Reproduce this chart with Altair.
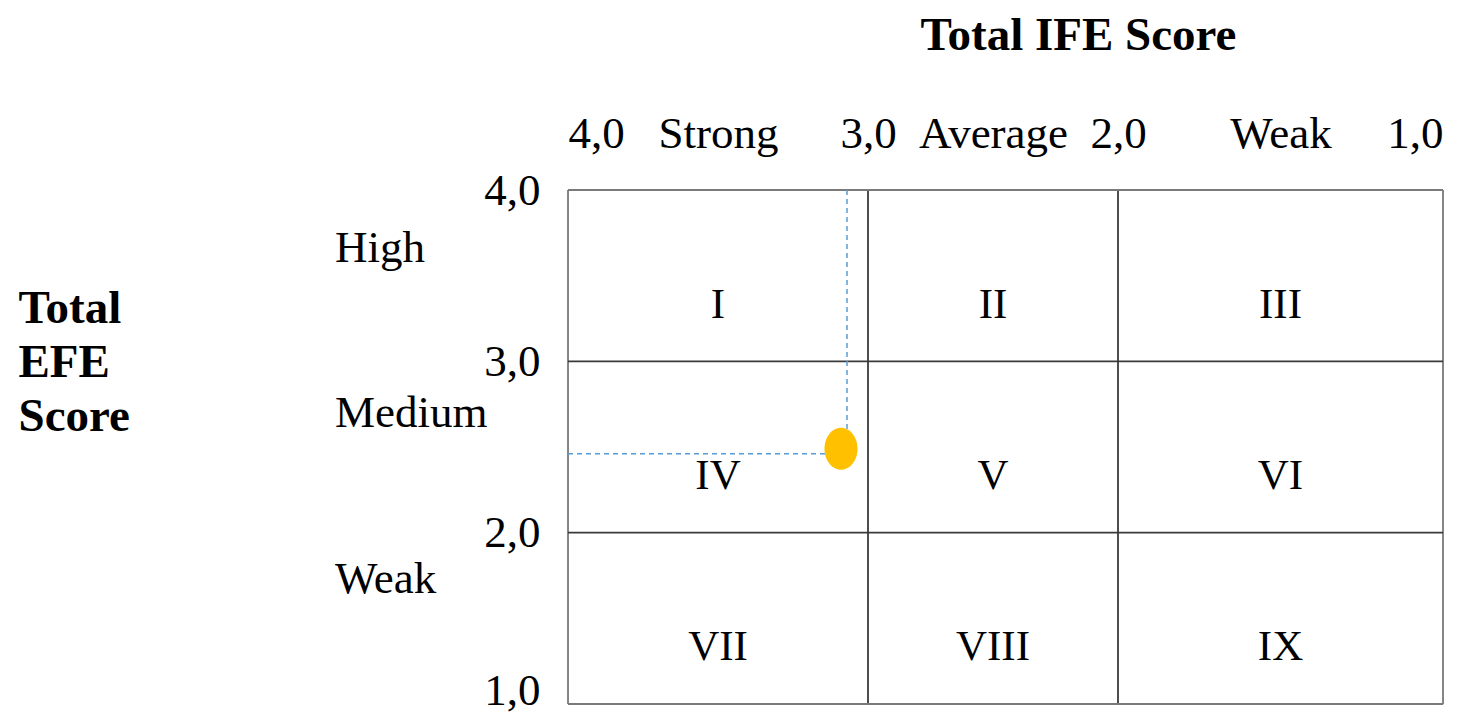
import altair as alt
import pandas as pd

# ---- data ----
ife_ticks = [4, 3, 2, 1]
efe_ticks = [4, 3, 2, 1]
ife_categories = ["Strong", "Average", "Weak"]
ife_cat_pos = [3.5, 2.5, 1.5]
efe_categories = ["High", "Medium", "Weak"]
efe_cat_pos = [3.66, 2.70, 1.73]
cell_labels = ["I", "II", "III", "IV", "V", "VI", "VII", "VIII", "IX"]
cell_ife = [3.5, 2.5, 1.5, 3.5, 2.5, 1.5, 3.5, 2.5, 1.5]
cell_efe = [3.33, 3.33, 3.33, 2.33, 2.33, 2.33, 1.33, 1.33, 1.33]
point_ife = 3.09
point_efe = 2.49
guide_ife = 3.07
guide_efe = 2.46

FONT = "Liberation Serif"
LABEL_SIZE = 45
TITLE_SIZE = 47
W, H = 875, 514

xscale = alt.Scale(domain=[4, 3, 2, 1], range=[0, 300, 550, 875])
yscale = alt.Scale(domain=[1, 4])

# label expression for top axis: numbers and category names on one row
cat_map = " : ".join(
    f"datum.value == {p} ? '{c}'" for p, c in zip(ife_cat_pos, ife_categories)
)
x_label_expr = cat_map + " : replace(format(datum.value, '.1f'), '.', ',')"

x_axis = alt.Axis(
    orient="top", values=ife_ticks + ife_cat_pos, labelExpr=x_label_expr,
    labelFont=FONT, labelFontSize=LABEL_SIZE, labelColor="black", labelPadding=34,
    labelFlush=True, labelOverlap=False, labelBound=False,
    domain=False, ticks=False, grid=False,
    title="Total IFE Score", titleFont=FONT, titleFontSize=TITLE_SIZE, titleFontWeight="bold",
    titleColor="black", titleX=510, titleY=-155, titleBaseline="middle", titleAlign="center",
)
y_axis = alt.Axis(
    orient="left", values=efe_ticks,
    labelExpr="replace(format(datum.value, '.1f'), '.', ',')",
    labelFont=FONT, labelFontSize=LABEL_SIZE, labelColor="black", labelPadding=28,
    labelBaseline={"condition": {"test": "datum.value == 1", "value": "alphabetic"},
                   "value": "middle"},
    domain=False, ticks=False, grid=False,
    title=["Total", "EFE", "Score"], titleFont=FONT, titleFontSize=TITLE_SIZE,
    titleFontWeight="bold", titleColor="black", titleAngle=0, titleAlign="left",
    titleBaseline="alphabetic", titleX=-550, titleY=132, titleLineHeight=54,
)

# grid lines
vlines = pd.DataFrame({"ife": ife_ticks, "e1": [1] * 4, "e2": [4] * 4,
                       "kind": ["border", "inner", "inner", "border"]})
hlines = pd.DataFrame({"efe": efe_ticks, "i1": [4] * 4, "i2": [1] * 4,
                       "kind": ["border", "inner", "inner", "border"]})
kind_color = alt.Color("kind:N", scale=alt.Scale(domain=["border", "inner"],
                                                 range=["#7a7a7a", "#3a3a3a"]), legend=None)

base_x = alt.X("ife:Q", scale=xscale, axis=x_axis)

vrule = alt.Chart(vlines).mark_rule(strokeWidth=1.8).encode(
    x=base_x,
    y=alt.Y("e1:Q", scale=yscale, axis=y_axis), y2="e2:Q",
    color=kind_color,
)
hrule = alt.Chart(hlines).mark_rule(strokeWidth=1.8).encode(
    y=alt.Y("efe:Q", scale=yscale), x=alt.X("i1:Q", scale=xscale), x2="i2:Q",
    color=kind_color,
)

cells = pd.DataFrame({"label": cell_labels, "ife": cell_ife, "efe": cell_efe})
cell_text = alt.Chart(cells).mark_text(font=FONT, fontSize=43, color="black",
                                       baseline="middle", align="center").encode(
    x=alt.X("ife:Q", scale=xscale), y=alt.Y("efe:Q", scale=yscale), text="label:N"
)

efe_cat = pd.DataFrame({"label": efe_categories, "efe": efe_cat_pos})
efe_text = alt.Chart(efe_cat).mark_text(font=FONT, fontSize=LABEL_SIZE, color="black",
                                        baseline="middle", align="left").encode(
    x=alt.value(-233), y=alt.Y("efe:Q", scale=yscale), text="label:N"
)

guides_v = pd.DataFrame({"ife": [guide_ife], "e1": [4], "e2": [point_efe]})
guides_h = pd.DataFrame({"efe": [guide_efe], "i1": [4], "i2": [point_ife]})
dash_v = alt.Chart(guides_v).mark_rule(color="#5B9BD5", strokeWidth=1.5,
                                       strokeDash=[5, 4]).encode(
    x=alt.X("ife:Q", scale=xscale), y=alt.Y("e1:Q", scale=yscale), y2="e2:Q"
)
dash_h = alt.Chart(guides_h).mark_rule(color="#5B9BD5", strokeWidth=1.5,
                                       strokeDash=[5, 4]).encode(
    y=alt.Y("efe:Q", scale=yscale), x=alt.X("i1:Q", scale=xscale), x2="i2:Q"
)

pt = pd.DataFrame({"ife": [point_ife], "efe": [point_efe]})
ellipse = "M0,-1 A0.786,1 0 1,1 0,1 A0.786,1 0 1,1 0,-1 Z"
point = alt.Chart(pt).mark_point(filled=True, shape=ellipse, size=1764,
                                 color="#FFC000", opacity=1).encode(
    x=alt.X("ife:Q", scale=xscale), y=alt.Y("efe:Q", scale=yscale)
)

chart = alt.layer(vrule, hrule, cell_text, efe_text, dash_v, dash_h, point).properties(
    width=W, height=H,
    padding={"left": 10, "top": 3, "right": 5, "bottom": 5},
).configure_view(stroke=None).configure(background="white")

chart.save("out.html", embed_options={"renderer": "svg", "actions": False})
